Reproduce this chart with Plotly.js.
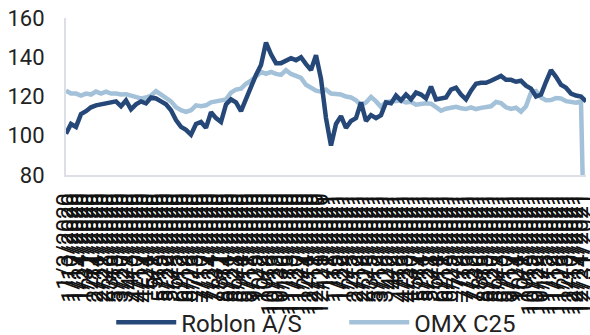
<!DOCTYPE html>
<html>
<head>
<meta charset="utf-8">
<script src="https://cdn.plot.ly/plotly-3.0.1.min.js"></script>
<style>
html,body{margin:0;padding:0;background:#fff;}
#chart{width:590px;height:335px;}
</style>
</head>
<body>
<div id="chart"></div>
<script>
const dates = [
"1/3/2020","1/10/2020","1/17/2020","1/24/2020","1/31/2020","2/7/2020","2/14/2020","2/21/2020","2/28/2020","3/6/2020",
"3/13/2020","3/20/2020","3/27/2020","4/3/2020","4/10/2020","4/17/2020","4/24/2020","5/1/2020","5/8/2020","5/15/2020",
"5/22/2020","5/29/2020","6/5/2020","6/12/2020","6/19/2020","6/26/2020","7/3/2020","7/10/2020","7/17/2020","7/24/2020",
"7/31/2020","8/7/2020","8/14/2020","8/21/2020","8/28/2020","9/4/2020","9/11/2020","9/18/2020","9/25/2020","10/2/2020",
"10/9/2020","10/16/2020","10/23/2020","10/30/2020","11/6/2020","11/13/2020","11/20/2020","11/27/2020","12/4/2020","12/11/2020",
"12/18/2020","12/25/2020","1/1/2021","1/8/2021","1/15/2021","1/22/2021","1/29/2021","2/5/2021","2/12/2021","2/19/2021",
"2/26/2021","3/5/2021","3/12/2021","3/19/2021","3/26/2021","4/2/2021","4/9/2021","4/16/2021","4/23/2021","4/30/2021",
"5/7/2021","5/14/2021","5/21/2021","5/28/2021","6/4/2021","6/11/2021","6/18/2021","6/25/2021","7/2/2021","7/9/2021",
"7/16/2021","7/23/2021","7/30/2021","8/6/2021","8/13/2021","8/20/2021","8/27/2021","9/3/2021","9/10/2021","9/17/2021",
"9/24/2021","10/1/2021","10/8/2021","10/15/2021","10/22/2021","10/29/2021","11/5/2021","11/12/2021","11/19/2021","11/26/2021",
"12/3/2021","12/10/2021","12/17/2021","12/24/2021","12/31/2021"
];

const roblon = [
101,106,104.5,111,112.5,114.5,115.5,116,116.5,117,
117.5,115,118,113.5,116,117.5,116.5,119.5,119,117.5,
116,113,108,104.5,103,100.5,106,107,104,112,
109,107,116,118.5,117,112.5,118.5,125.5,131,136,
147.5,141.5,137,137,138.5,139.5,138.5,140,136.5,133.5,
141,129,109,95,106,110,104,107.5,109,117,
107.5,110.5,109,110.5,117,116.5,120.5,118,121,118.5,
122,121,119,125,118.5,119,119.5,123.5,124.5,121,
118.5,123,126.5,127,127,128,129,130.5,128.5,128.5,
127.5,128,125.5,124,120,121,127.5,133.5,130,126,
124.5,121.5,120.5,120,117.5
];

const omxc25 = [
123,121.5,121.5,120.5,121.5,121,122.5,121.5,122.5,121.5,
121.5,121,121.2,120.5,119.5,119,119.5,120.5,122.7,121,
119.5,117.5,114.5,113,112.2,113,115.5,115,115.5,117,
117.5,118,118.5,122,123.5,124,126.5,128,130.5,132.5,
131.5,132.5,131.5,131,133.4,131.5,130.5,129.5,126,124.5,
123,122.5,123.5,121.5,121.2,121,120,119.5,118,115.6,
117,119.8,117.5,114.7,117.2,117.3,117.6,118,117,117.3,
115.8,116.3,116.5,116.3,114.2,112.8,113.8,114.4,114.7,114,
113.6,114.5,113.6,114.2,114.5,115,117.2,116.6,114.5,113.7,
114.3,112.3,115,122,122.8,119.5,118.1,118.2,119.2,119,
117.6,117.3,116.8,117.5,0
];

const seriesNames = ["Roblon A/S", "OMX C25"];
const yTicks = [80, 100, 120, 140, 160];

const traces = [
  {x: dates, y: omxc25, name: seriesNames[1], type: 'scatter', mode: 'lines',
   line: {color: '#a3c1d9', width: 4.5}, legendrank: 2},
  {x: dates, y: roblon, name: seriesNames[0], type: 'scatter', mode: 'lines',
   line: {color: '#264878', width: 4.5}, legendrank: 1}
];

const layout = {
  width: 590, height: 335,
  margin: {l: 66, r: 4, t: 18, b: 160, autoexpand: false},
  paper_bgcolor: '#ffffff', plot_bgcolor: '#ffffff',
  font: {family: 'Roboto, "Open Sans", sans-serif', color: '#222222'},
  showlegend: true,
  legend: {orientation: 'h', x: 0.087, xanchor: 'left', y: -0.94, yanchor: 'middle',
           font: {size: 24, color: '#222222'}, entrywidth: 158, entrywidthmode: 'pixels',
           itemwidth: 60, bgcolor: 'rgba(0,0,0,0)', traceorder: 'normal'},
  xaxis: {type: 'category', range: [0, dates.length - 1], tickmode: 'linear', dtick: 1,
          tickangle: -90, tickfont: {size: 23, color: '#111111'}, showgrid: false,
          showline: true, linecolor: '#dcdfe6', linewidth: 2, ticks: '', ticklabelstandoff: 7,
          zeroline: false},
  yaxis: {range: [80, 160], tickvals: yTicks, ticktext: yTicks.map(String),
          tickfont: {size: 22, color: '#222222'}, showgrid: false, showline: true,
          linecolor: '#dcdfe6', linewidth: 2, ticks: '', ticklabelstandoff: 15, zeroline: false}
};

Plotly.newPlot('chart', traces, layout, {staticPlot: true, displayModeBar: false});
</script>
</body>
</html>
